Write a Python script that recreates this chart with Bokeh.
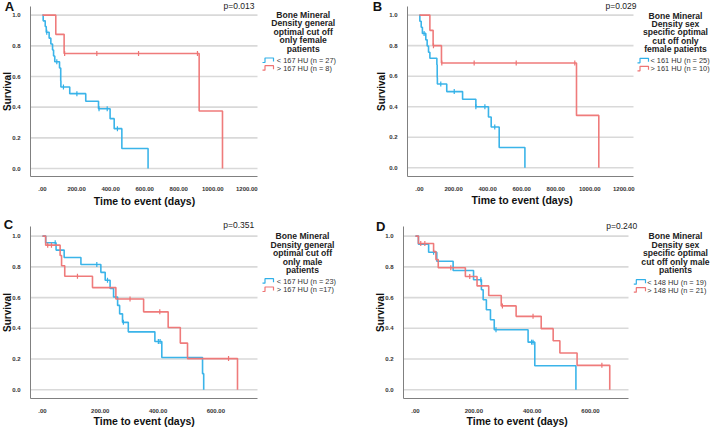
import math
from bokeh.plotting import figure
from bokeh.models import Range1d, FixedTicker
from bokeh.layouts import column, row
from bokeh.embed import file_html
from bokeh.resources import INLINE
from bokeh.core.properties import value

FONT = "Liberation Sans"
BLUE = "#30b0e8"
RED = "#ee7474"
GRID = "#d9d9d9"
AXIS = "#808080"

# ---------------- data ----------------
Y_TICKS = [0.0, 0.2, 0.4, 0.6, 0.8, 1.0]
Y_LABELS = ["0.0", "0.2", "0.4", "0.6", "0.8", "1.0"]
X_TICKS_LONG = [0, 200, 400, 600, 800, 1000, 1200]
X_LABELS_LONG = [".00", "200.00", "400.00", "600.00", "800.00", "1000.00", "1200.00"]
X_TICKS_SHORT = [0, 200, 400, 600]
X_LABELS_SHORT = [".00", "200.00", "400.00", "600.00"]

# Panel A
A_LOW_T = [0, 4, 16, 22, 39, 49, 59, 65, 72, 100, 107, 107, 108, 160, 254, 329, 397, 421, 466, 620]
A_LOW_S = [1.0, 0.963, 0.926, 0.889, 0.850, 0.812, 0.773, 0.734, 0.696, 0.655, 0.614, 0.573, 0.532,
           0.488, 0.439, 0.390, 0.325, 0.260, 0.130, 0.0]
A_LOW_CT = [25, 84, 123, 202, 332, 380, 440]
A_LOW_CS = [0.889, 0.696, 0.532, 0.488, 0.390, 0.390, 0.260]
A_HIGH_T = [0, 78, 127, 920, 1057]
A_HIGH_S = [1.0, 0.875, 0.75, 0.375, 0.0]
A_HIGH_CT = [130, 319, 564, 910]
A_HIGH_CS = [0.75, 0.75, 0.75, 0.75]

# Panel B
B_LOW_T = [0, 2, 10, 17, 37, 45, 53, 61, 102, 104, 104, 105, 160, 253, 331, 405, 421, 468, 619]
B_LOW_S = [1.0, 0.96, 0.92, 0.88, 0.838, 0.798, 0.757, 0.717, 0.675, 0.633, 0.591, 0.549, 0.499,
           0.449, 0.40, 0.333, 0.267, 0.133, 0.0]
B_LOW_CT = [27, 125, 204, 331, 384, 442]
B_LOW_CS = [0.88, 0.549, 0.499, 0.40, 0.40, 0.267]
B_HIGH_T = [0, 61, 80, 129, 922, 1053]
B_HIGH_S = [1.0, 0.9, 0.8, 0.686, 0.343, 0.0]
B_HIGH_CT = [82, 131, 321, 568, 912]
B_HIGH_CS = [0.8, 0.686, 0.686, 0.686, 0.686]

# Panel C
C_LOW_T = [0, 11, 47, 75, 133, 202, 217, 234, 246, 260, 267, 277, 297, 389, 413, 554, 558]
C_LOW_S = [1.0, 0.957, 0.909, 0.861, 0.815, 0.764, 0.713, 0.659, 0.604, 0.549, 0.494, 0.439, 0.377,
           0.314, 0.21, 0.105, 0.0]
C_LOW_CT = [44, 188, 225, 280, 401, 407]
C_LOW_CS = [0.957, 0.815, 0.713, 0.439, 0.314, 0.314]
C_HIGH_T = [0, 11, 61, 66, 77, 173, 254, 350, 435, 477, 502, 675]
C_HIGH_S = [1.0, 0.941, 0.874, 0.807, 0.739, 0.665, 0.591, 0.507, 0.405, 0.304, 0.203, 0.0]
C_HIGH_CT = [18, 31, 121, 303, 406, 644]
C_HIGH_CS = [0.941, 0.941, 0.739, 0.591, 0.507, 0.203]

# Panel D
D_LOW_T = [0, 10, 45, 73, 129, 199, 226, 232, 243, 257, 270, 386, 409, 550]
D_LOW_S = [1.0, 0.947, 0.895, 0.836, 0.776, 0.716, 0.651, 0.586, 0.521, 0.456, 0.391, 0.31, 0.156, 0.0]
D_LOW_CT = [62, 224, 276, 398, 403]
D_LOW_CS = [0.895, 0.716, 0.391, 0.31, 0.31]
D_HIGH_T = [0, 10, 62, 70, 78, 171, 211, 251, 294, 345, 431, 472, 495, 554, 666]
D_HIGH_S = [1.0, 0.952, 0.899, 0.847, 0.794, 0.737, 0.676, 0.614, 0.546, 0.478, 0.398, 0.319,
            0.239, 0.159, 0.0]
D_HIGH_CT = [18, 32, 121, 186, 298, 403, 639]
D_HIGH_CS = [0.952, 0.952, 0.794, 0.737, 0.546, 0.478, 0.159]

# Texts
LETTERS = ["A", "B", "C", "D"]
P_VALUES = ["p=0.013", "p=0.029", "p=0.351", "p=0.240"]
LEGEND_TITLES = [
    ["Bone Mineral", "Density general", "optimal cut off", "only female", "patients"],
    ["Bone Mineral", "Density sex", "specific optimal", "cut off only", "female patients"],
    ["Bone Mineral", "Density general", "optimal cut off", "only male", "patients"],
    ["Bone Mineral", "Density sex", "specific optimal", "cut off only male", "patients"],
]
LEGEND_ENTRIES = [
    ["< 167 HU (n = 27)", "> 167 HU (n = 8)"],
    ["< 161 HU (n = 25)", "> 161 HU (n = 10)"],
    ["< 167 HU (n = 23)", "> 167 HU (n =17)"],
    ["< 148 HU (n = 19)", "> 148 HU (n = 21)"],
]
X_TITLE = "Time to event (days)"
Y_TITLE = "Survival"

# ---------------- layout (pixel geometry per panel) ----------------
PANELS = [
    dict(W=355, H=213, ox=42, kx=0.17028, oy=168.0, ky=153.33, axl=30, axb=176, xend=257, ytop=6,
         xt=X_TICKS_LONG, xl=X_LABELS_LONG, letter=(9, 6), pv=(254, 5), lt=(302.7, 14.5, 8.4),
         icon=(262, 273), et=276.3, ey=(60, 67.7), ylab=(7, 91), xlab=(144, 200),
         low=(A_LOW_T, A_LOW_S, A_LOW_CT, A_LOW_CS), high=(A_HIGH_T, A_HIGH_S, A_HIGH_CT, A_HIGH_CS)),
    dict(W=355, H=213, ox=64, kx=0.17028, oy=167.3, ky=152.7, axl=52, axb=176, xend=278, ytop=6,
         xt=X_TICKS_LONG, xl=X_LABELS_LONG, letter=(22, 6), pv=(281, 5), lt=(320, 15, 8.4),
         icon=(282, 293), et=295, ey=(60.3, 68.3), ylab=(26, 91), xlab=(166.7, 199.3),
         low=(B_LOW_T, B_LOW_S, B_LOW_CT, B_LOW_CS), high=(B_HIGH_T, B_HIGH_S, B_HIGH_CT, B_HIGH_CS)),
    dict(W=355, H=214, ox=42, kx=0.28889, oy=176.3, ky=153.7, axl=30, axb=185, xend=257, ytop=12.7,
         xt=X_TICKS_SHORT, xl=X_LABELS_SHORT, letter=(8, 10.5), pv=(253.7, 11), lt=(302, 22.7, 8.5),
         icon=(262, 273), et=276.3, ey=(67.7, 76), ylab=(7, 99), xlab=(143.7, 207.5),
         low=(C_LOW_T, C_LOW_S, C_LOW_CT, C_LOW_CS), high=(C_HIGH_T, C_HIGH_S, C_HIGH_CT, C_HIGH_CS)),
    dict(W=355, H=214, ox=60, kx=0.29167, oy=176.3, ky=153.7, axl=48, axb=185, xend=273, ytop=12.7,
         xt=X_TICKS_SHORT, xl=X_LABELS_SHORT, letter=(25.3, 12.5), pv=(281.7, 12), lt=(320, 22.7, 8.5),
         icon=(278.3, 290), et=291.7, ey=(68.7, 76.7), ylab=(24.7, 99), xlab=(161.7, 207.5),
         low=(D_LOW_T, D_LOW_S, D_LOW_CT, D_LOW_CS), high=(D_HIGH_T, D_HIGH_S, D_HIGH_CT, D_HIGH_CS)),
]


def build(i, cfg):
    W, H = cfg["W"], cfg["H"]
    ox, kx, oy, ky = cfg["ox"], cfg["kx"], cfg["oy"], cfg["ky"]

    def tx(lx):
        return (lx - ox) / kx

    def sy(ly):
        return (oy - ly) / ky

    p = figure(width=W, height=H, x_range=Range1d(tx(0), tx(W)), y_range=Range1d(sy(H), sy(0)),
               output_backend="svg", toolbar_location=None,
               min_border_left=0, min_border_right=0, min_border_top=0, min_border_bottom=0)
    p.outline_line_color = None
    p.background_fill_color = "white"
    p.border_fill_color = "white"
    p.xgrid.visible = False
    p.ygrid.visible = False

    x0 = tx(cfg["axl"])
    y0 = sy(cfg["axb"])
    xend = tx(cfg["xend"])
    ytop = sy(cfg["ytop"])

    # axes drawn at fixed positions inside the canvas
    for ax in (p.xaxis[0], p.yaxis[0]):
        ax.axis_line_color = AXIS
        ax.axis_line_width = 1
        ax.major_tick_line_color = None
        ax.minor_tick_line_color = None
        ax.major_label_text_font = FONT
        ax.major_label_text_font_size = "6px"
        ax.major_label_text_font_style = "bold"
        ax.major_label_text_color = "#333333"
        ax.major_label_standoff = 4
    p.xaxis.fixed_location = y0
    p.yaxis.fixed_location = x0
    p.xaxis.bounds = (x0, xend)
    p.yaxis.bounds = (y0, ytop)
    p.xaxis.ticker = FixedTicker(ticks=cfg["xt"])
    p.xaxis.major_label_overrides = {t: l for t, l in zip(cfg["xt"], cfg["xl"])}
    p.yaxis.ticker = FixedTicker(ticks=Y_TICKS)
    p.yaxis.major_label_overrides = {t: l for t, l in zip(Y_TICKS, Y_LABELS)}

    # gridlines
    n = len(Y_TICKS)
    p.segment(x0=[x0] * n, y0=Y_TICKS, x1=[xend] * n, y1=Y_TICKS, line_color=GRID, line_width=1.6)

    # curves
    for (t, s, ct, cs), col in ((cfg["low"], BLUE), (cfg["high"], RED)):
        p.step(x=t, y=s, mode="after", line_color=col, line_width=1.6, line_alpha=0.95)
        p.scatter(x=ct, y=cs, marker="dash", angle=math.pi / 2, size=5,
                  line_color=col, line_width=1.2)

    # p-value
    px, pyy = cfg["pv"]
    p.text(x=[tx(px)], y=[sy(pyy)], text=[P_VALUES[i]], text_font=value(FONT),
           text_font_size=value("8.5px"), text_align="right", text_baseline="middle",
           text_color="#222222")

    # legend title
    cx, ty, dy = cfg["lt"]
    lines = LEGEND_TITLES[i]
    p.text(x=[tx(cx)] * len(lines), y=[sy(ty + dy * k) for k in range(len(lines))], text=lines,
           text_font=value(FONT), text_font_size=value("8.6px"), text_font_style="bold",
           text_align="center", text_baseline="middle", text_color="#222222")

    # legend entries
    a, b = cfg["icon"]
    for k, (col, lab) in enumerate(zip((BLUE, RED), LEGEND_ENTRIES[i])):
        c = cfg["ey"][k]
        xs = [a, a + 2.5, a + 2.5, b, b]
        ys = [c + 2, c + 2, c - 2.5, c - 2.5, c + 1]
        p.line(x=[tx(v) for v in xs], y=[sy(v) for v in ys], line_color=col, line_width=1.2)
        p.text(x=[tx(cfg["et"])], y=[sy(c)], text=[lab], text_font=value(FONT),
               text_font_size=value("7.4px"), text_align="left", text_baseline="middle",
               text_color="#333333")

    # panel letter and axis titles
    lx, ly = cfg["letter"]
    p.text(x=[tx(lx)], y=[sy(ly)], text=[LETTERS[i]], text_font=value(FONT),
           text_font_size=value("13px"), text_font_style="bold", text_align="center",
           text_baseline="middle", text_color="#111111")
    yx, yy = cfg["ylab"]
    p.text(x=[tx(yx)], y=[sy(yy)], text=[Y_TITLE], text_font=value(FONT),
           text_font_size=value("10px"), text_font_style="bold", text_align="center",
           text_baseline="middle", angle=math.pi / 2, text_color="#111111")
    xx, xy = cfg["xlab"]
    p.text(x=[tx(xx)], y=[sy(xy)], text=[X_TITLE], text_font=value(FONT),
           text_font_size=value("10.5px"), text_font_style="bold", text_align="center",
           text_baseline="middle", text_color="#111111")
    return p


figs = [build(i, cfg) for i, cfg in enumerate(PANELS)]
layout = column(row(figs[0], figs[1]), row(figs[2], figs[3]))
open("out.html", "w").write(file_html(layout, INLINE))
